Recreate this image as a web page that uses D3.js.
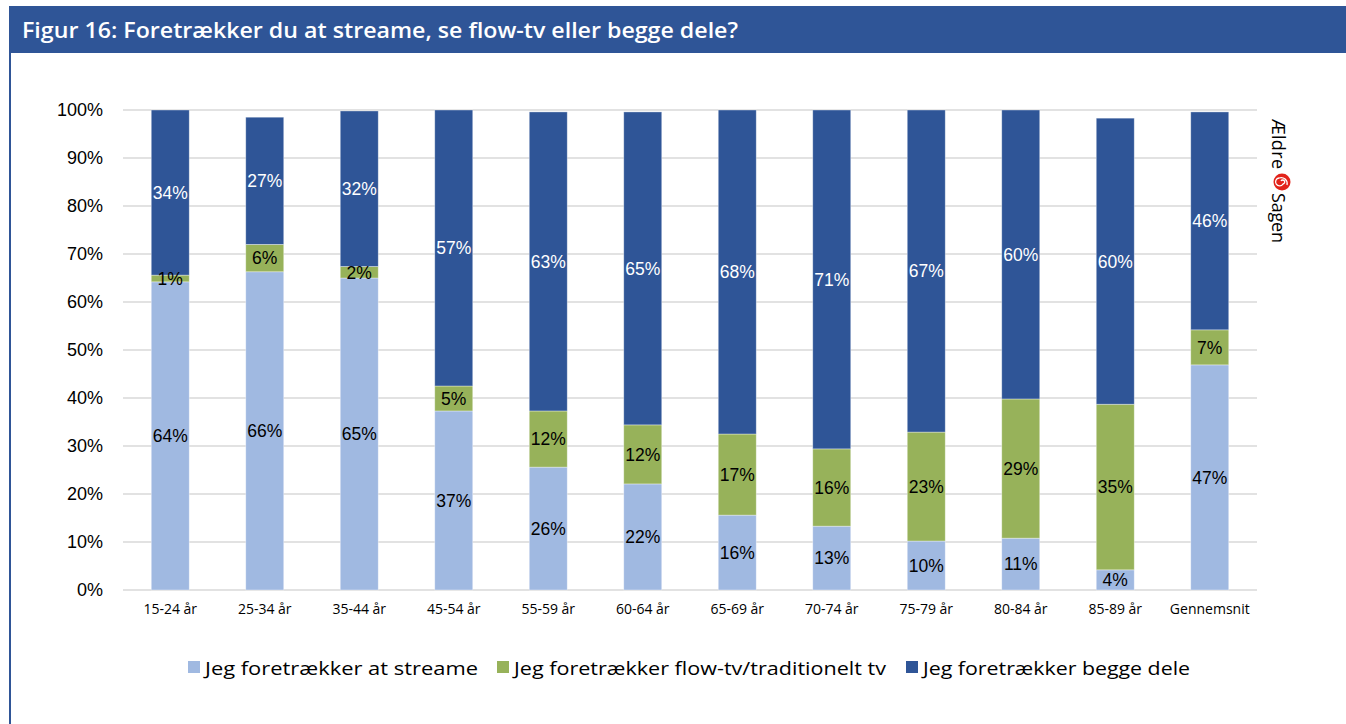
<!DOCTYPE html>
<html>
<head>
<meta charset="utf-8">
<script src="https://cdn.jsdelivr.net/npm/d3@7"></script>
<style>
  body { margin: 0; background: #fff; }
  svg { display: block; }
</style>
</head>
<body>
<div id="chart"></div>
<script>
(function () {
    var width = 1346,
        height = 724;

    // data
    var categories = ["15-24 år", "25-34 år", "35-44 år", "45-54 år", "55-59 år", "60-64 år",
        "65-69 år", "70-74 år", "75-79 år", "80-84 år", "85-89 år", "Gennemsnit"];
    var streame = [64.2, 66.3, 65.0, 37.3, 25.6, 22.1, 15.6, 13.3, 10.2, 10.8, 4.2, 46.9];
    var flowtv = [1.4, 5.7, 2.4, 5.2, 11.7, 12.3, 16.9, 16.1, 22.7, 29.0, 34.5, 7.3];
    var begge = [34.4, 26.5, 32.4, 57.5, 62.3, 65.2, 67.5, 70.6, 67.1, 60.2, 59.6, 45.4];
    var streameLabels = ["64%", "66%", "65%", "37%", "26%", "22%", "16%", "13%", "10%", "11%", "4%", "47%"];
    var flowLabels = ["1%", "6%", "2%", "5%", "12%", "12%", "17%", "16%", "23%", "29%", "35%", "7%"];
    var beggeLabels = ["34%", "27%", "32%", "57%", "63%", "65%", "68%", "71%", "67%", "60%", "60%", "46%"];
    var yTicks = [0, 10, 20, 30, 40, 50, 60, 70, 80, 90, 100];
    var seriesNames = ["Jeg foretrækker at streame", "Jeg foretrækker flow-tv/traditionelt tv", "Jeg foretrækker begge dele"];
    var seriesKeys = ["streame", "flowtv", "begge"];
    var colors = ["#A0B9E1", "#97B25A", "#2F5597"];

    var svg = d3.select("#chart")
        .append("svg")
        .attr("width", width)
        .attr("height", height);

    // title bar + frame line
    svg.append("rect")
        .attr("x", 9).attr("y", 6)
        .attr("width", width - 9).attr("height", 47)
        .attr("fill", "#2F5597");
    svg.append("rect")
        .attr("x", 9).attr("y", 53)
        .attr("width", 2).attr("height", height - 53)
        .attr("fill", "#2F5597");
    svg.append("text")
        .attr("x", 22).attr("y", 38)
        .attr("fill", "#fff")
        .attr("font-family", "'Open Sans', sans-serif")
        .attr("font-weight", 600)
        .attr("font-size", 22)
        .attr("textLength", 716)
        .attr("lengthAdjust", "spacingAndGlyphs")
        .text("Figur 16: Foretrækker du at streame, se flow-tv eller begge dele?");

    var rows = categories.map(function (c, i) {
        return {
            cat: c, streame: streame[i], flowtv: flowtv[i], begge: begge[i],
            labels: [streameLabels[i], flowLabels[i], beggeLabels[i]]
        };
    });

    var x = d3.scaleBand()
        .domain(categories)
        .range([123, 1257])
        .paddingInner(0.598)
        .paddingOuter(0.299);

    var y = d3.scaleLinear()
        .domain([0, 100])
        .range([590, 110]);

    // gridlines
    svg.append("g")
        .selectAll("line")
        .data(yTicks)
        .enter().append("line")
        .attr("x1", 123).attr("x2", 1257)
        .attr("y1", function (d) { return y(d); })
        .attr("y2", function (d) { return y(d); })
        .attr("stroke", "#D9D9D9")
        .attr("stroke-width", 1.5);

    // y axis labels
    var yAxis = d3.axisLeft(y)
        .tickValues(yTicks)
        .tickSize(0)
        .tickPadding(0)
        .tickFormat(function (d) { return d + "%"; });
    var gy = svg.append("g")
        .attr("transform", "translate(103,0)")
        .call(yAxis);
    gy.select(".domain").remove();
    gy.selectAll("text")
        .attr("font-family", "Arial, 'Liberation Sans', sans-serif")
        .attr("font-size", 18)
        .attr("fill", "#000");

    // x axis labels
    var xAxis = d3.axisBottom(x).tickSize(0).tickPadding(0);
    var gx = svg.append("g")
        .attr("transform", "translate(0,604)")
        .call(xAxis);
    gx.select(".domain").remove();
    gx.selectAll("text")
        .attr("font-family", "'Open Sans', sans-serif")
        .attr("font-size", 14)
        .attr("fill", "#000");

    var stack = d3.stack().keys(seriesKeys);
    var stacked = stack(rows);

    var layers = svg.append("g")
        .selectAll(".layer")
        .data(stacked)
        .enter().append("g")
        .attr("class", "layer")
        .attr("fill", function (d, i) { return colors[i]; });

    layers.selectAll("rect")
        .data(function (d) { return d; })
        .enter().append("rect")
        .attr("x", function (d) { return x(d.data.cat); })
        .attr("width", x.bandwidth())
        .attr("y", function (d) { return y(d[1]); })
        .attr("height", function (d) { return y(d[0]) - y(d[1]); })
        .attr("stroke", "#fff")
        .attr("stroke-opacity", 0.45)
        .attr("stroke-width", 0.8);

    // data labels
    stacked.forEach(function (layer, li) {
        svg.append("g")
            .selectAll("text")
            .data(layer)
            .enter().append("text")
            .attr("x", function (d) { return x(d.data.cat) + x.bandwidth() / 2; })
            .attr("y", function (d) { return (y(d[0]) + y(d[1])) / 2; })
            .attr("dy", "0.36em")
            .attr("text-anchor", "middle")
            .attr("font-family", "Arial, 'Liberation Sans', sans-serif")
            .attr("font-size", 17.5)
            .attr("fill", li === 2 ? "#fff" : "#000")
            .text(function (d) { return d.data.labels[li]; });
    });

    // legend
    var legendX = [188, 497, 906];
    var legendW = [273, 372, 267];
    var legend = svg.append("g")
        .selectAll("g")
        .data(seriesNames)
        .enter().append("g")
        .attr("transform", function (d, i) { return "translate(" + legendX[i] + ",0)"; });
    legend.append("rect")
        .attr("x", 0).attr("y", 661)
        .attr("width", 12).attr("height", 12)
        .attr("fill", function (d, i) { return colors[i]; });
    legend.append("text")
        .attr("x", 17).attr("y", 675)
        .attr("font-family", "'Open Sans', sans-serif")
        .attr("font-size", 19)
        .attr("fill", "#000")
        .attr("textLength", function (d, i) { return legendW[i]; })
        .attr("lengthAdjust", "spacingAndGlyphs")
        .text(function (d) { return d; });

    // Ældre Sagen logo, rotated
    var logo = svg.append("g")
        .attr("transform", "translate(1272,119) rotate(90)");
    logo.append("text")
        .attr("x", 0).attr("y", 0)
        .attr("font-family", "'Open Sans', sans-serif")
        .attr("font-size", 18)
        .attr("fill", "#000")
        .attr("textLength", 50)
        .text("Ældre");
    logo.append("circle")
        .attr("cx", 63).attr("cy", -10)
        .attr("r", 8.5)
        .attr("fill", "#E2231A");
    logo.append("path")
        .attr("d", "M63,-10 m-1,1 a2,2 0 1,1 3,-2 a4,4 0 1,1 -6,4 a6,6 0 0,1 7,-8")
        .attr("fill", "none")
        .attr("stroke", "#fff")
        .attr("stroke-width", 1.3);
    logo.append("text")
        .attr("x", 74).attr("y", 0)
        .attr("font-family", "'Open Sans', sans-serif")
        .attr("font-size", 18)
        .attr("fill", "#000")
        .attr("textLength", 50)
        .text("Sagen");
})();
</script>
</body>
</html>
